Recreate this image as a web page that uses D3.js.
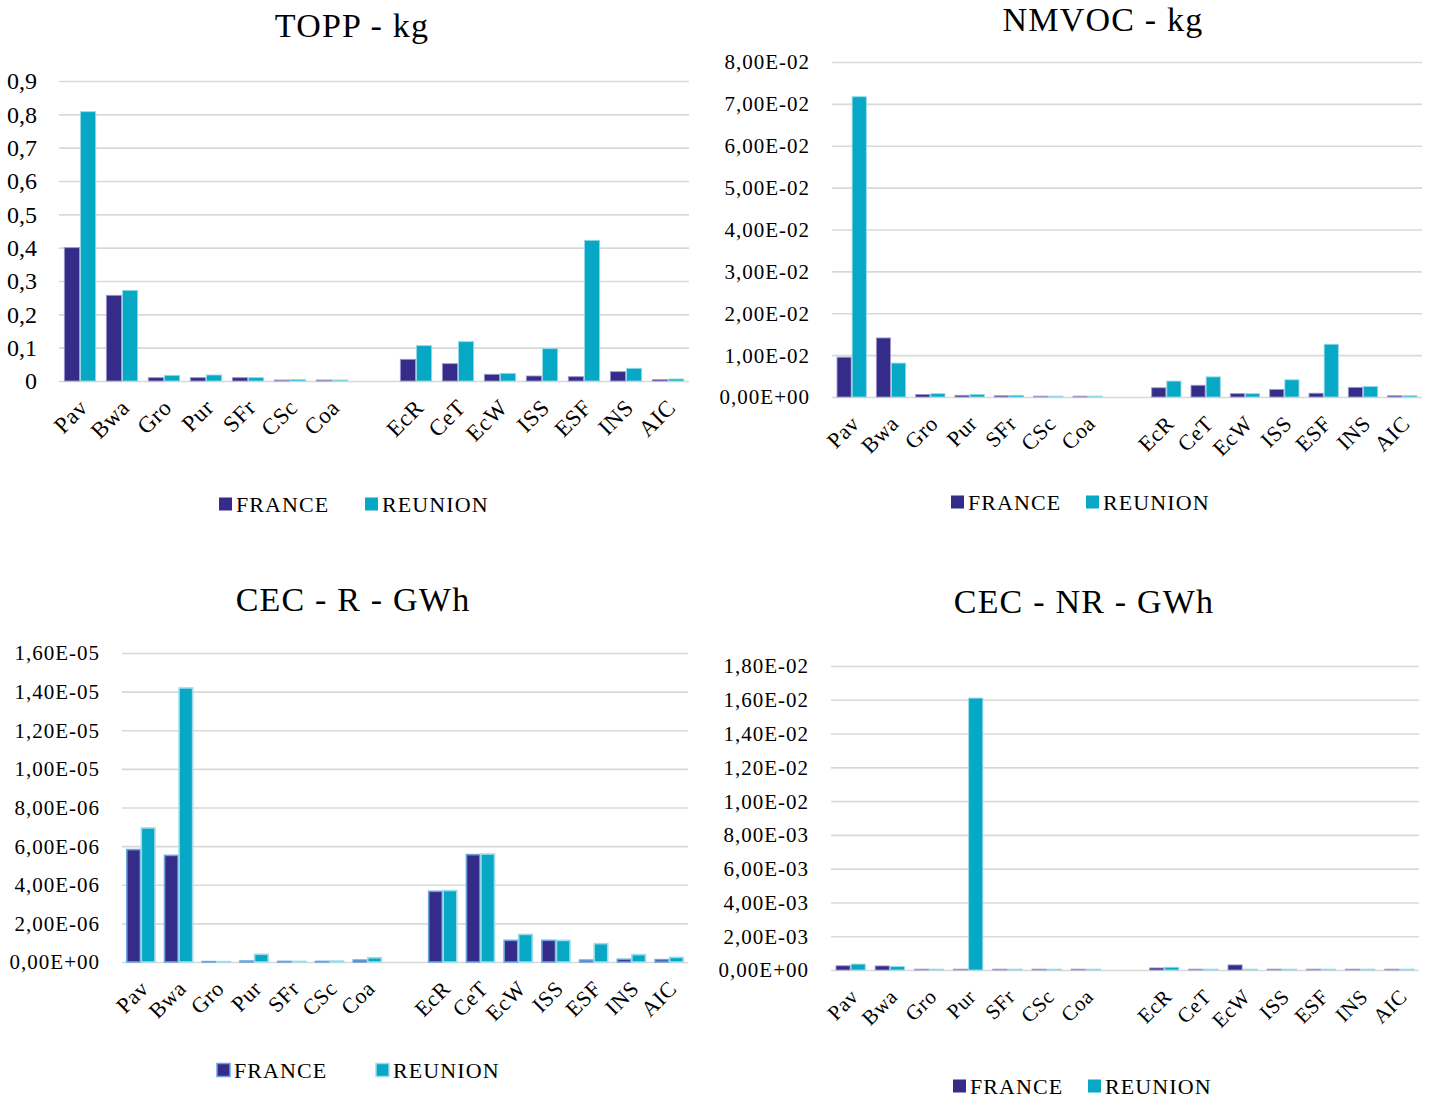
<!DOCTYPE html>
<html>
<head>
<meta charset="utf-8">
<script src="https://cdn.jsdelivr.net/npm/d3@7"></script>
<style>
  html, body { margin: 0; padding: 0; background: #fff; }
  svg { display: block; }
  text { font-family: "Liberation Serif", "Times New Roman", serif; fill: #000; }
</style>
</head>
<body>
<svg id="chart" width="1432" height="1099"></svg>
<script>
// ---------- DATA ----------
const categories = ["Pav","Bwa","Gro","Pur","SFr","CSc","Coa","","EcR","CeT","EcW","ISS","ESF","INS","AIC"];
const seriesNames = ["FRANCE","REUNION"];

const toppFrance   = [0.400,0.257,0.010,0.010,0.010,0.003,0.003,null,0.065,0.052,0.020,0.015,0.013,0.028,0.004];
const toppReunion  = [0.808,0.272,0.017,0.018,0.010,0.004,0.003,null,0.106,0.118,0.023,0.097,0.422,0.038,0.006];
const toppTicks    = [0,0.1,0.2,0.3,0.4,0.5,0.6,0.7,0.8,0.9];

const nmvocFrance  = [0.0095,0.0141,0.0006,0.0004,0.0003,0.0002,0.0002,null,0.0022,0.0028,0.0008,0.0018,0.0009,0.0023,0.0003];
const nmvocReunion = [0.0717,0.0081,0.0008,0.0006,0.0004,0.0002,0.0002,null,0.0038,0.0048,0.0008,0.0041,0.0126,0.0025,0.0003];
const nmvocTicks   = [0,0.01,0.02,0.03,0.04,0.05,0.06,0.07,0.08];

const cecRFrance   = [5.82e-6,5.52e-6,0.02e-6,0.05e-6,0.03e-6,0.03e-6,0.10e-6,null,3.66e-6,5.56e-6,1.12e-6,1.12e-6,0.10e-6,0.14e-6,0.12e-6];
const cecRReunion  = [6.94e-6,14.19e-6,0.02e-6,0.40e-6,0.03e-6,0.05e-6,0.22e-6,null,3.70e-6,5.59e-6,1.43e-6,1.12e-6,0.95e-6,0.38e-6,0.24e-6];
const cecRTicks    = [0,2e-6,4e-6,6e-6,8e-6,1e-5,1.2e-5,1.4e-5,1.6e-5];

const cecNRFrance  = [0.25e-3,0.24e-3,0.05e-3,0.05e-3,0.05e-3,0.05e-3,0.05e-3,null,0.12e-3,0.05e-3,0.30e-3,0.05e-3,0.05e-3,0.05e-3,0.05e-3];
const cecNRReunion = [0.35e-3,0.20e-3,0.05e-3,16.1e-3,0.05e-3,0.05e-3,0.05e-3,null,0.16e-3,0.05e-3,0.05e-3,0.05e-3,0.05e-3,0.05e-3,0.05e-3];
const cecNRTicks   = [0,0.002,0.004,0.006,0.008,0.010,0.012,0.014,0.016,0.018];

const panelTitles = ["TOPP - kg","NMVOC - kg","CEC - R - GWh","CEC - NR - GWh"];

// ---------- STYLE / LAYOUT ----------
const colFrance = "#352b88";
const colReunion = "#06a8c6";
const gridColor = "#d9d9d9";

function fmtComma(v){ return v === 0 ? "0" : String(+v.toFixed(1)).replace(".", ","); }
function fmtExp(v){
  const s = v.toExponential(2);
  const m = s.match(/^(-?[\d.]+)e([+-])(\d+)$/);
  const exp = m[3].padStart(2, "0");
  return m[1].replace(".", ",") + "E" + m[2] + exp;
}

const panels = [
  { title: panelTitles[0], fr: toppFrance, re: toppReunion, ticks: toppTicks, fmt: fmtComma,
    x0: 59, x1: 689, yTop: 81, yBot: 381, tickFont: 24, tickLS: 0, xFont: 23,
    titleX: 352, titleY: 37, legY: 504, legX: [219, 365], outlineFr: "#9d98cf", outlineRe: "#93d9e8" },
  { title: panelTitles[1], fr: nmvocFrance, re: nmvocReunion, ticks: nmvocTicks, fmt: fmtExp,
    x0: 832, x1: 1422, yTop: 62, yBot: 397, tickFont: 21, tickLS: 1, xFont: 22,
    titleX: 1103, titleY: 31, legY: 502, legX: [951, 1086], outlineFr: "#9d98cf", outlineRe: "#93d9e8" },
  { title: panelTitles[2], fr: cecRFrance, re: cecRReunion, ticks: cecRTicks, fmt: fmtExp,
    x0: 122, x1: 688, yTop: 653, yBot: 962, tickFont: 21, tickLS: 1, xFont: 22,
    titleX: 353, titleY: 611, legY: 1070, legX: [217, 376], outlineFr: "#6aa6dd", outlineRe: "#9fdcea", thick: true },
  { title: panelTitles[3], fr: cecNRFrance, re: cecNRReunion, ticks: cecNRTicks, fmt: fmtExp,
    x0: 831, x1: 1419, yTop: 666, yBot: 970, tickFont: 21, tickLS: 1, xFont: 21,
    titleX: 1084, titleY: 613, legY: 1086, legX: [953, 1088], outlineFr: "#9d98cf", outlineRe: "#93d9e8" }
];

const svg = d3.select("#chart");

panels.forEach(p => {
  const g = svg.append("g");
  const idx = d3.range(categories.length);
  const x = d3.scaleBand().domain(idx).range([p.x0, p.x1]).paddingInner(0).paddingOuter(0);
  const y = d3.scaleLinear().domain([0, p.ticks[p.ticks.length - 1]]).range([p.yBot, p.yTop]);
  const step = x.bandwidth();
  const bw = step * 0.36;
  const gap = step * 0.025;

  g.append("text").attr("x", p.titleX).attr("y", p.titleY)
    .attr("text-anchor", "middle").style("font-size", "34px").style("letter-spacing", "1.2px")
    .text(p.title);

  const yAxis = d3.axisLeft(y).tickValues(p.ticks).tickFormat(p.fmt).tickSize(-(p.x1 - p.x0)).tickPadding(22);
  const ya = g.append("g").attr("transform", `translate(${p.x0},0)`).call(yAxis);
  ya.select(".domain").remove();
  ya.selectAll(".tick line").attr("stroke", gridColor).attr("stroke-width", 1.6);
  ya.selectAll(".tick text")
    .attr("fill", "#000").attr("dy", "0.33em")
    .style("font-family", '"Liberation Serif", "Times New Roman", serif')
    .style("font-size", p.tickFont + "px").style("letter-spacing", p.tickLS + "px");

  const sw = p.thick ? 1.6 : 0.9;
  const fr = idx.filter(i => p.fr[i] != null);
  g.selectAll(".barF").data(fr).enter().append("rect")
    .attr("x", i => x(i) + step / 2 - gap / 2 - bw)
    .attr("width", bw)
    .attr("y", i => y(p.fr[i]))
    .attr("height", i => y(0) - y(p.fr[i]))
    .attr("fill", colFrance).attr("stroke", p.outlineFr).attr("stroke-width", sw);
  const re = idx.filter(i => p.re[i] != null);
  g.selectAll(".barR").data(re).enter().append("rect")
    .attr("x", i => x(i) + step / 2 + gap / 2)
    .attr("width", bw)
    .attr("y", i => y(p.re[i]))
    .attr("height", i => y(0) - y(p.re[i]))
    .attr("fill", colReunion).attr("stroke", p.outlineRe).attr("stroke-width", sw);

  const xAxis = d3.axisBottom(x).tickFormat(i => categories[i]).tickSize(0).tickPadding(0);
  const xa = g.append("g").attr("transform", `translate(0,${p.yBot})`).call(xAxis);
  xa.select(".domain").remove();
  xa.selectAll(".tick text")
    .attr("fill", "#000")
    .attr("text-anchor", "end")
    .attr("y", 0).attr("dy", 0)
    .attr("transform", "translate(9,28) rotate(-45)")
    .style("font-family", '"Liberation Serif", "Times New Roman", serif')
    .style("font-size", p.xFont + "px").style("letter-spacing", "0.6px");

  const cols = [colFrance, colReunion];
  const outl = [p.outlineFr, p.outlineRe];
  seriesNames.forEach((name, k) => {
    g.append("rect").attr("x", p.legX[k]).attr("y", p.legY - 6.5).attr("width", 13).attr("height", 13)
      .attr("fill", cols[k]).attr("stroke", p.thick ? outl[k] : "none").attr("stroke-width", p.thick ? 1.5 : 0);
    g.append("text").attr("x", p.legX[k] + 17).attr("y", p.legY + 7.5)
      .style("font-size", "22px").style("letter-spacing", "1.1px").text(name);
  });
});
</script>
</body>
</html>
